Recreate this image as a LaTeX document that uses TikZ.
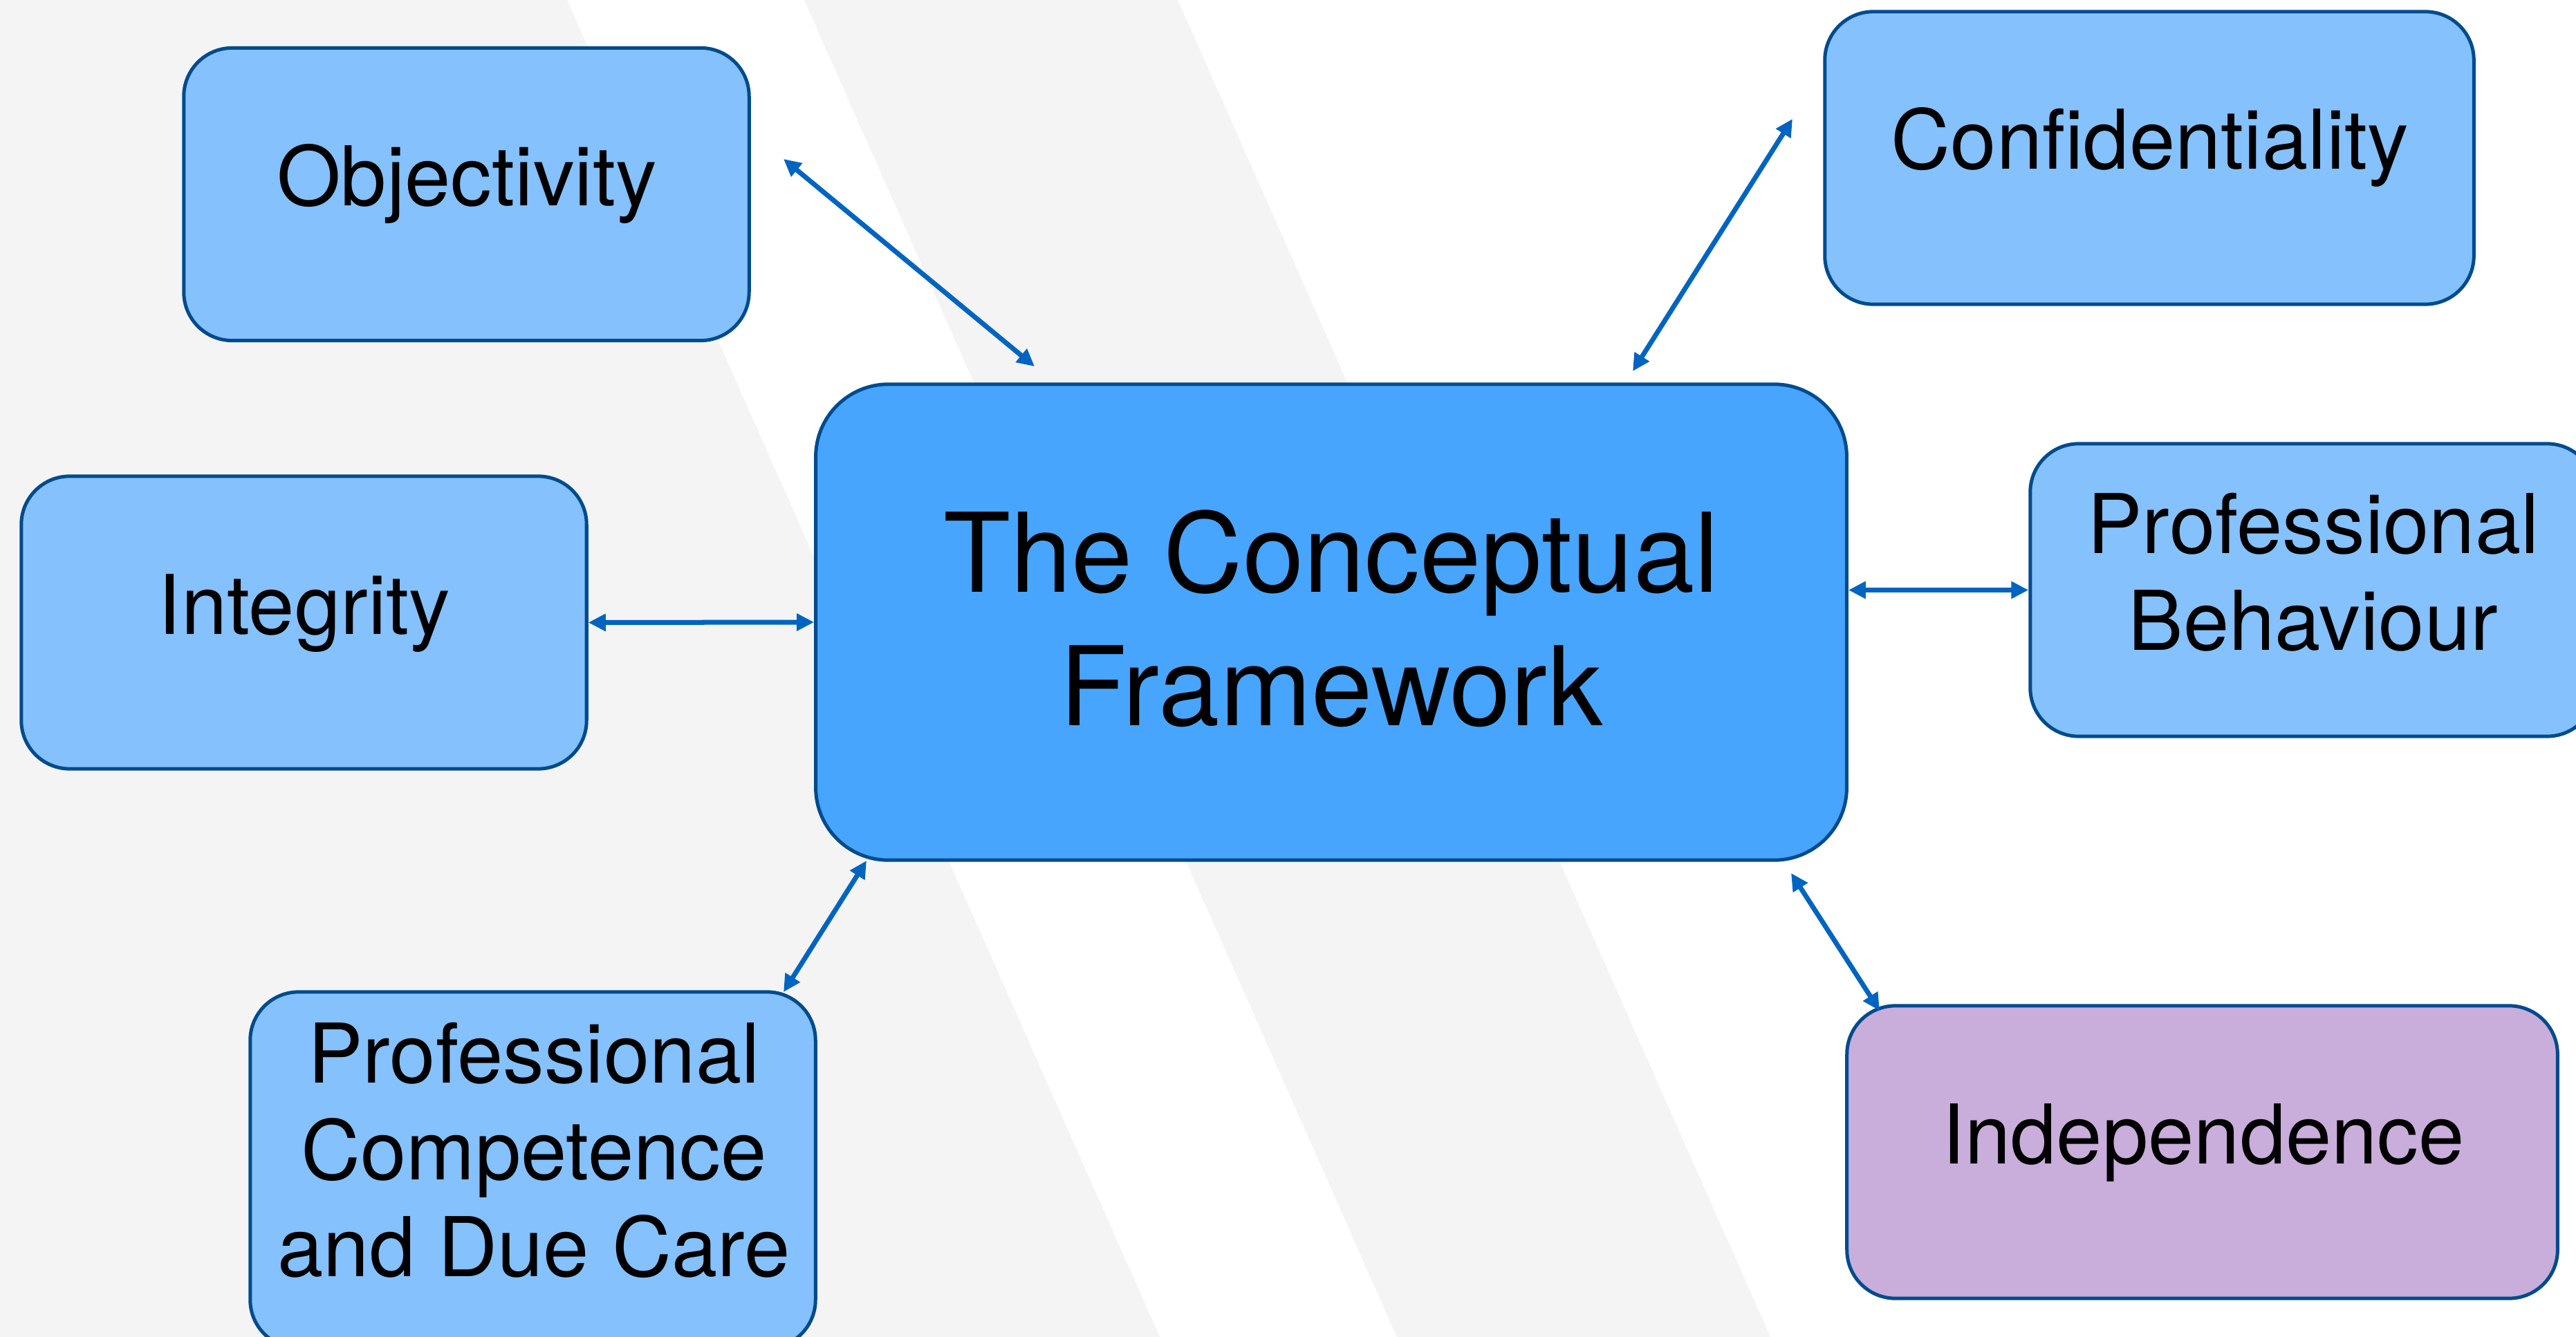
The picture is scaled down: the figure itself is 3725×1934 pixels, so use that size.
\documentclass[tikz,border=0pt]{standalone}
\usepackage{fontspec}
\setmainfont{TeX Gyre Heros}
\usetikzlibrary{arrows.meta}
\definecolor{boxlight}{HTML}{84C1FD}
\definecolor{boxcore}{HTML}{47A5FD}
\definecolor{boxviolet}{HTML}{C9ADDB}
\definecolor{edgeblue}{HTML}{004B8D}
\definecolor{linkblue}{HTML}{0064C1}
\definecolor{band}{HTML}{F4F4F4}

\begin{document}
\begin{tikzpicture}[x=0.01cm,y=-0.01cm,
  card/.style={draw=edgeblue, line width=0.05cm, rounded corners=0.7cm, inner sep=0pt,
               fill=boxlight, minimum width=8.17cm, minimum height=4.23cm},
  core/.style={card, fill=boxcore, rounded corners=1.05cm, minimum width=14.9cm, minimum height=6.88cm},
  caption/.style={font=\fontsize{33.9}{39.8}\selectfont, align=center, anchor=base, inner sep=0pt},
  bigcaption/.style={caption, font=\fontsize{45.2}{54.6}\selectfont},
  tip/.tip={Triangle[length=0.25cm,width=0.24cm]},
  link/.style={draw=linkblue, line width=0.07cm, tip-tip}
]
\useasboundingbox (0,0) rectangle (3725,1934);
\clip (0,0) rectangle (3725,1934);

% background with soft diagonal bands
\fill[white] (0,0) rectangle (3725,1934);
\fill[band] (1163,0) -- (1703,0) -- (2560,1934) -- (2020,1934) -- cycle;
\fill[band] (0,0) -- (820,0) -- (1677,1934) -- (0,1934) -- cycle;

% boxes
\node[card]                 (obj)  at (674.5,281)  {};
\node[card, minimum width=9.38cm] (conf) at (3108,228.5) {};
\node[card]                 (int)  at (439.5,900.5) {};
\node[core]                 (cf)   at (1925,900)   {};
\node[card]                 (pb)   at (3344.5,853.5) {};
\node[card, minimum height=5.15cm] (pc) at (770.5,1692.5) {};
\node[card, fill=boxviolet, minimum width=10.27cm] (ind) at (3184.5,1666.5) {};

% captions
\node[caption]    (obj-t)  at (675,298)   {Objectivity};
\node[caption]    (conf-t) at (3109,245)  {Confidentiality};
\node[caption]    (int-t)  at (440,917)   {Integrity};
\node[bigcaption] (cf-t)   at (1925,1049) {The Conceptual\\Framework};
\node[caption]    (pb-t)   at (3345,940)  {Professional\\Behaviour};
\node[caption]    (pc-t)   at (772,1846)  {Professional\\Competence\\and Due Care};
\node[caption]    (ind-t)  at (3186,1683) {Independence};

% connector ends
\coordinate (obj-e)  at (1133,230);
\coordinate (cf-nw)  at (1496,530);
\coordinate (conf-e) at (2592,172);
\coordinate (cf-ne)  at (2361,537);
\coordinate (cf-sw)  at (1253,1245);
\coordinate (pc-e)   at (1133,1435);
\coordinate (cf-se)  at (2590,1263);
\coordinate (ind-e)  at (2718,1462);

% connectors
\draw[link] (obj-e) -- (cf-nw);
\draw[link] (conf-e) -- (cf-ne);
\draw[link] (int.east) -- (cf.west);
\draw[link] (cf.east |- pb.west) -- (pb.west);
\draw[link] (cf-sw) -- (pc-e);
\draw[link] (cf-se) -- (ind-e);
\end{tikzpicture}
\end{document}
